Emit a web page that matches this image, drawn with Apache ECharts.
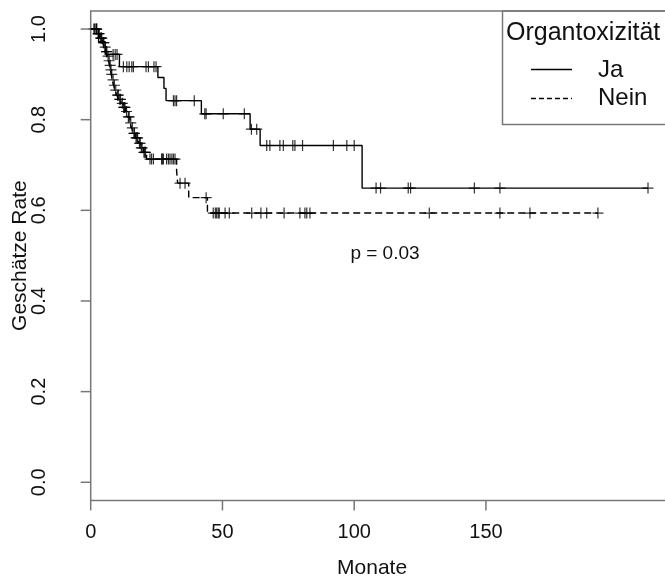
<!DOCTYPE html>
<html><head><meta charset="utf-8">
<script src="https://cdn.jsdelivr.net/npm/echarts@6/dist/echarts.min.js"></script>
<style>html,body{margin:0;padding:0;background:#fff}#c{width:665px;height:580px}</style>
</head><body><div id="c"></div><script>
// ---- data ----
const legendTitle = 'Organtoxizität';
const seriesNames = ['Ja', 'Nein'];
const xTicks = [0, 50, 100, 150];
const yTicks = [0, 0.2, 0.4, 0.6, 0.8, 1.0];
const xName = 'Monate';
const yName = 'Geschätze Rate';
const pText = 'p = 0.03';

// Ja: event times and survival after each event
const jaTimes = [0, 3, 5.5, 10.9, 25.5, 27.8, 28.6, 42, 60.5, 64.3, 103];
const jaSurv  = [1, 0.972, 0.944, 0.917, 0.893, 0.869, 0.842, 0.813, 0.779, 0.743, 0.649];
const jaEnd = 211.5;
const jaCensor = [1.2, 2.3, 8.5, 9.3, 10, 12.4, 13.7, 14.6, 15.6, 16.2, 21, 21.9, 24, 24.8, 31.4, 32, 32.6, 39.3,
  43.3, 43.8, 50.3, 58.3, 61, 63, 66.8, 68, 71.8, 73.1, 76.7, 77.5, 80.4, 92.1, 97.2, 100,
  108.3, 110, 120.5, 121.4, 145.6, 155.3, 211.5];

// Nein
const neinTimes = [0, 2.5, 3.5, 4.5, 5.2, 5.8, 6.3, 6.8, 7.2, 7.5, 7.8, 8.2, 8.7, 9.2, 9.9, 10.6, 11.5,
  12.3, 13.2, 14, 14.9, 15.5, 16.2, 17, 18.1, 19, 20, 21.2, 32.6, 33, 37.2, 44.3];
const neinSurv  = [1, 0.99, 0.98, 0.97, 0.96, 0.95, 0.94, 0.93, 0.92, 0.91, 0.90, 0.888, 0.876, 0.865,
  0.854, 0.845, 0.836, 0.827, 0.818, 0.806, 0.793, 0.782, 0.77, 0.76, 0.748, 0.738, 0.728, 0.713,
  0.687, 0.66, 0.628, 0.594];
const neinEnd = 192.5;
const neinCensor = [1.5, 2, 2.2, 2.8, 3, 3.2, 3.8, 4, 4.2, 4.8, 5, 5.5, 6, 6.1, 6.6, 7, 7.4, 7.7, 8, 8.5,
  9, 9.5, 10.2, 10.5, 11, 11.3, 12, 12.5, 12.8, 13, 13.6, 14.3, 14.6, 15.2, 15.8, 16.4, 16.6, 17.2,
  17.5, 17.8, 18.5, 18.8, 19.2, 19.5, 20.2, 20.5, 20.8,
  22.5, 23.1, 23.8, 26.9, 27.2, 27.6, 28.8, 29.5, 30.1, 30.8, 31.4, 32,
  33.9, 35.8, 43.8, 46.5, 47.3, 47.8, 48.4, 48.8, 51, 52.6, 61.1, 64.6, 66.8, 73.4, 79.4,
  81.3, 82, 83.2, 128.5, 155.3, 166.7, 192.5];

// ---- helpers ----
function stepPoints(times, surv, end) {
  const pts = times.map((t, i) => [t, surv[i]]);
  pts.push([end, surv[surv.length - 1]]);
  return pts;
}
function survAt(times, surv, t) {
  let s = surv[0];
  for (let i = 0; i < times.length; i++) { if (times[i] <= t) s = surv[i]; }
  return s;
}
function censorPoints(times, surv, cens) {
  return cens.map(t => [t, survAt(times, surv, t)]);
}

const FONT = '"Liberation Sans", Arial, sans-serif';
const AX = '#777';
const TXT = '#111';
const plus = 'path://M5,0L5,10M0,5L10,5';

const chart = echarts.init(document.getElementById('c'), null, {renderer: 'canvas'});
const gridLeft = 90.7, gridTop = 10.9, gridW = 579.7, gridH = 489.5;
const TICK = 10;

const option = {
  animation: false,
  backgroundColor: '#fff',
  grid: { left: gridLeft, top: gridTop, width: gridW, height: gridH, show: true,
    borderColor: AX, borderWidth: 1.5, backgroundColor: 'transparent', containLabel: false,
    outerBoundsMode: 'none' },
  xAxis: {
    type: 'value', min: 0, max: 220,
    name: xName, nameLocation: 'middle', nameGap: 57, nameMoveOverlap: false,
    nameTextStyle: { fontFamily: FONT, fontSize: 21, color: TXT, padding: [0, 17, 0, 0] },
    axisLine: { show: false, onZero: false },
    axisTick: { show: false },
    axisLabel: { show: true, customValues: xTicks, margin: 22, fontFamily: FONT, fontSize: 20, color: TXT },
    splitLine: { show: false }
  },
  yAxis: {
    type: 'value', min: -0.04, max: 1.04,
    name: yName, nameLocation: 'middle', nameGap: 60, nameRotate: 90, nameMoveOverlap: false,
    nameTextStyle: { fontFamily: FONT, fontSize: 21, color: TXT },
    axisLine: { show: false, onZero: false },
    axisTick: { show: false },
    axisLabel: { show: true, customValues: yTicks, rotate: 90, margin: 41, fontFamily: FONT, fontSize: 20, color: TXT,
      formatter: v => v.toFixed(1) },
    splitLine: { show: false }
  },
  series: [
    { name: seriesNames[0], type: 'line', step: 'end', symbol: 'none',
      data: stepPoints(jaTimes, jaSurv, jaEnd),
      lineStyle: { color: '#000', width: 1.4, type: 'solid' }, z: 3 },
    { name: seriesNames[1], type: 'line', step: 'end', symbol: 'none',
      data: stepPoints(neinTimes, neinSurv, neinEnd),
      lineStyle: { color: '#000', width: 1.4, type: [7, 4] }, z: 3 },
    { name: seriesNames[0] + ' zensiert', type: 'scatter', symbol: plus, symbolSize: 11,
      data: censorPoints(jaTimes, jaSurv, jaCensor),
      itemStyle: { color: 'none', borderColor: '#000', borderWidth: 1.2 }, z: 4 },
    { name: seriesNames[1] + ' zensiert', type: 'scatter', symbol: plus, symbolSize: 11,
      data: censorPoints(neinTimes, neinSurv, neinCensor),
      itemStyle: { color: 'none', borderColor: '#000', borderWidth: 1.2 }, z: 4 }
  ],
  graphic: [
    { type: 'rect', shape: { x: 502.5, y: gridTop, width: 200, height: 113.5 },
      style: { fill: 'none', stroke: AX, lineWidth: 1.5 }, z: 10 },
    { type: 'text', x: 506, y: 33, style: { text: legendTitle, fontFamily: FONT, fontSize: 25, fill: TXT,
      verticalAlign: 'middle' }, z: 11 },
    { type: 'line', shape: { x1: 531, y1: 69.5, x2: 572, y2: 69.5 }, style: { stroke: '#000', lineWidth: 1.4 }, z: 11 },
    { type: 'line', shape: { x1: 531, y1: 98.5, x2: 572, y2: 98.5 }, style: { stroke: '#000', lineWidth: 1.4, lineDash: [5, 3] }, z: 11 },
    { type: 'text', x: 598, y: 70, style: { text: seriesNames[0], fontFamily: FONT, fontSize: 24, fill: TXT,
      verticalAlign: 'middle' }, z: 11 },
    { type: 'text', x: 598, y: 98, style: { text: seriesNames[1], fontFamily: FONT, fontSize: 24, fill: TXT,
      verticalAlign: 'middle' }, z: 11 },
    { type: 'text', x: 385, y: 254, style: { text: pText, fontFamily: FONT, fontSize: 19, fill: TXT,
      align: 'center', verticalAlign: 'middle' }, z: 11 }
  ]
};
chart.setOption(option);

// axis ticks (outward, R style) placed through the chart's own scales
const bottomY = gridTop + gridH, leftX = gridLeft;
const tickGraphics = [];
xTicks.forEach(v => {
  const px = chart.convertToPixel({ xAxisIndex: 0 }, v);
  tickGraphics.push({ type: 'line', shape: { x1: px, y1: bottomY, x2: px, y2: bottomY + TICK },
    style: { stroke: AX, lineWidth: 1.5 }, z: 12 });
});
yTicks.forEach(v => {
  const py = chart.convertToPixel({ yAxisIndex: 0 }, v);
  tickGraphics.push({ type: 'line', shape: { x1: leftX - TICK, y1: py, x2: leftX, y2: py },
    style: { stroke: AX, lineWidth: 1.5 }, z: 12 });
});
chart.setOption({ graphic: option.graphic.concat(tickGraphics) });
</script></body></html>
